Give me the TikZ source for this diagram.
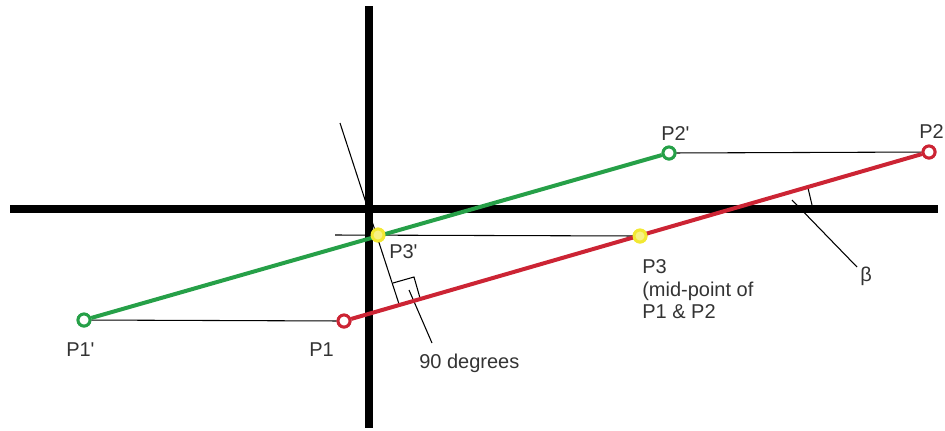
\documentclass[tikz,border=0pt]{standalone}
\usepackage{fontspec}
\setmainfont{Liberation Sans}
\definecolor{pgreen}{RGB}{38,160,72}
\definecolor{pred}{RGB}{204,36,52}
\definecolor{pyellow}{RGB}{242,232,50}
\begin{document}
\begin{tikzpicture}[x=0.75pt,y=-0.75pt,
  axisline/.style={line width=6pt,black},
  thinline/.style={line width=0.8pt,black},
  greenline/.style={line width=3pt,pgreen},
  redline/.style={line width=3pt,pred},
  pnt/.style={circle,inner sep=0pt,minimum size=9pt,line width=2.2pt,fill=white},
  gpt/.style={pnt,draw=pgreen},
  rpt/.style={pnt,draw=pred},
  ypt/.style={pnt,draw=pyellow,fill=pyellow!60},
  lbl/.style={anchor=base west,inner sep=0pt,font=\fontsize{15}{18}\selectfont,text=black!80}]
\useasboundingbox (0,0) rectangle (945,430);
% axes
\coordinate (xl) at (10,209);
\coordinate (xr) at (938,209);
\coordinate (yt) at (369,6);
\coordinate (yb) at (369,428);
% perpendicular line and helpers
\coordinate (ptop) at (340,123);
\coordinate (foot) at (399,304);
\coordinate (h3) at (335,235);
\coordinate (ra1) at (393,283);
\coordinate (ra2) at (414,277);
\coordinate (ra3) at (420,298);
\coordinate (n1) at (409,290);
\coordinate (n2) at (432,343);
\coordinate (b1) at (808,188);
\coordinate (b2) at (812,205);
\coordinate (b3) at (792,200);
\coordinate (b4) at (857,267);
% points
\node[gpt] (P1p) at (84,320) {};
\node[rpt] (P1) at (344,321) {};
\node[gpt] (P2p) at (669,153) {};
\node[rpt] (P2) at (929,152) {};
\node[ypt] (P3p) at (378,235) {};
\node[ypt] (P3) at (640,236) {};
% thin lines
\draw[thinline] (ptop) -- (foot);
\draw[thinline] (ra1) -- (ra2) -- (ra3);
\draw[thinline] (n1) -- (n2);
\draw[thinline] (b1) -- (b2);
\draw[thinline] (b3) -- (b4);
\draw[axisline] (xl) -- (xr);
\draw[axisline] (yt) -- (yb);
\draw[thinline] (P1p) -- (P1);
\draw[thinline] (P2p) -- (P2);
\draw[thinline] (h3) -- (P3.center);
% coloured lines
\draw[greenline] (P1p) -- (P2p);
\draw[redline] (P1) -- (P2);
% redraw points on top
\node[gpt] at (P1p) {};
\node[rpt] at (P1) {};
\node[gpt] at (P2p) {};
\node[rpt] at (P2) {};
\node[ypt] at (P3p) {};
\node[ypt] at (P3) {};
% labels
\node[lbl] (lP1p) at (66,356) {P1\textquotesingle};
\node[lbl] (lP1) at (309,356) {P1};
\node[lbl] (lP2p) at (661,140) {P2\textquotesingle};
\node[lbl] (lP2) at (919,138) {P2};
\node[lbl] (lP3p) at (389,258) {P3\textquotesingle};
\node[lbl] (lP3) at (642,273) {P3};
\node[lbl] (lmid) at (642,296) {(mid-point of};
\node[lbl] (lP12) at (642,318) {P1 \& P2};
\node[lbl] (l90) at (419,368) {90 degrees};
\node[lbl] (lbeta) at (860,281) {β};
\end{tikzpicture}
\end{document}
